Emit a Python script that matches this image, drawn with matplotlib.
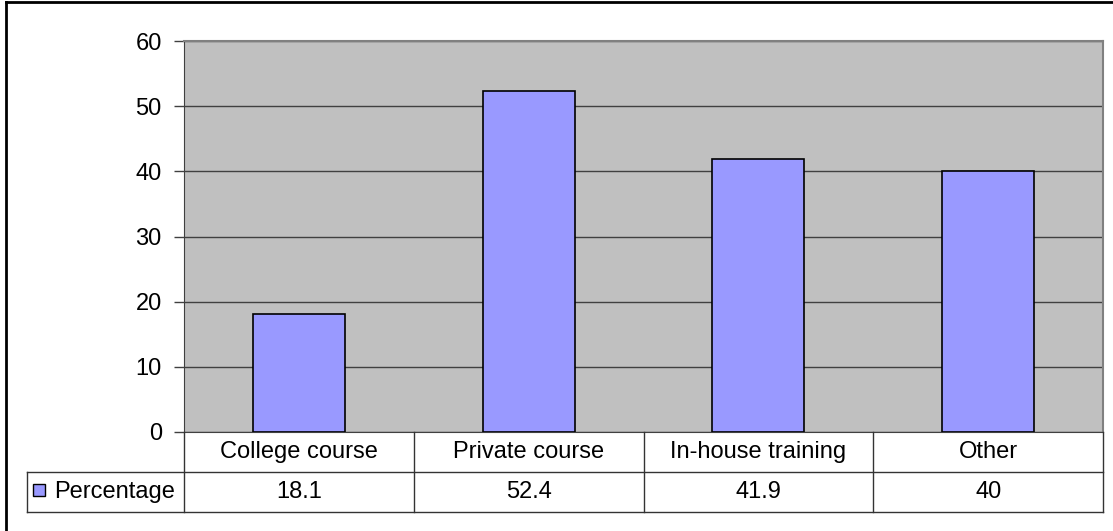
import matplotlib
matplotlib.use('Agg')
import matplotlib.pyplot as plt
from matplotlib.lines import Line2D
from matplotlib.patches import Rectangle
import matplotlib.transforms as mtransforms

categories = ["College course", "Private course", "In-house training", "Other"]
percentage = [18.1, 52.4, 41.9, 40]
value_labels = ["18.1", "52.4", "41.9", "40"]
series_name = "Percentage"
y_ticks = [0, 10, 20, 30, 40, 50, 60]

W, H = 1113, 531
FS = 17
plt.rcParams['font.family'] = ['Liberation Sans', 'DejaVu Sans']
fig = plt.figure(figsize=(W / 100, H / 100), dpi=100)


def fx(px):
    return px / W


def fy(py):
    return 1 - py / H


# plot area in pixel coords
left, right, top, bottom = 184, 1103, 41, 432
ax = fig.add_axes([fx(left), fy(bottom), fx(right - left), (bottom - top) / H])
ax.set_facecolor('#C0C0C0')

x = list(range(len(categories)))
ax.bar(x, percentage, width=0.4, color='#9999FF', edgecolor='black', linewidth=1.2, zorder=3)

ax.set_xlim(-0.5, len(categories) - 0.5)
ax.set_ylim(0, 60)
ax.set_yticks(y_ticks)
ax.set_yticklabels([str(t) for t in y_ticks], fontsize=FS)
ax.tick_params(axis='y', length=7, width=1, color='#404040', pad=9)
ax.set_xticks([])
ax.yaxis.grid(True, color='#404040', linewidth=1, zorder=1)
ax.set_axisbelow(True)
for s in ['top', 'right']:
    ax.spines[s].set_color('#808080')
    ax.spines[s].set_linewidth(1.5)
ax.spines['left'].set_color('#404040')
ax.spines['bottom'].set_color('#404040')

# data table below the plot
row1, row2, row3 = bottom, 472, 512
tbl_left = 27
line_col = '#333333'
blend = mtransforms.blended_transform_factory(ax.transData, fig.transFigure)
for b in [i - 0.5 for i in range(len(categories) + 1)]:
    fig.add_artist(Line2D([b, b], [fy(row1), fy(row3)], transform=blend,
                          color=line_col, linewidth=1))
for yy in [row2, row3]:
    fig.add_artist(Line2D([fx(tbl_left), fx(right)], [fy(yy), fy(yy)],
                          color=line_col, linewidth=1))
fig.add_artist(Line2D([fx(tbl_left), fx(tbl_left)], [fy(row2), fy(row3)],
                      color=line_col, linewidth=1))

for i, cat in enumerate(categories):
    fig.text(i, fy((row1 + row2) / 2), cat, transform=blend, ha='center', va='center', fontsize=FS)
    fig.text(i, fy((row2 + row3) / 2), value_labels[i], transform=blend, ha='center', va='center', fontsize=FS)

# legend key in the table
fig.add_artist(Rectangle((fx(33), fy(496)), fx(12), 12 / H, facecolor='#9999FF',
                         edgecolor='black', linewidth=1))
fig.text(fx(54), fy((row2 + row3) / 2), series_name, ha='left', va='center', fontsize=FS)

# chart border
fig.add_artist(Line2D([fx(6), fx(6)], [fy(2), 0], color='black', linewidth=2))
fig.add_artist(Line2D([fx(6), 1], [fy(2), fy(2)], color='black', linewidth=2))

fig.savefig('out.png', dpi=100)
